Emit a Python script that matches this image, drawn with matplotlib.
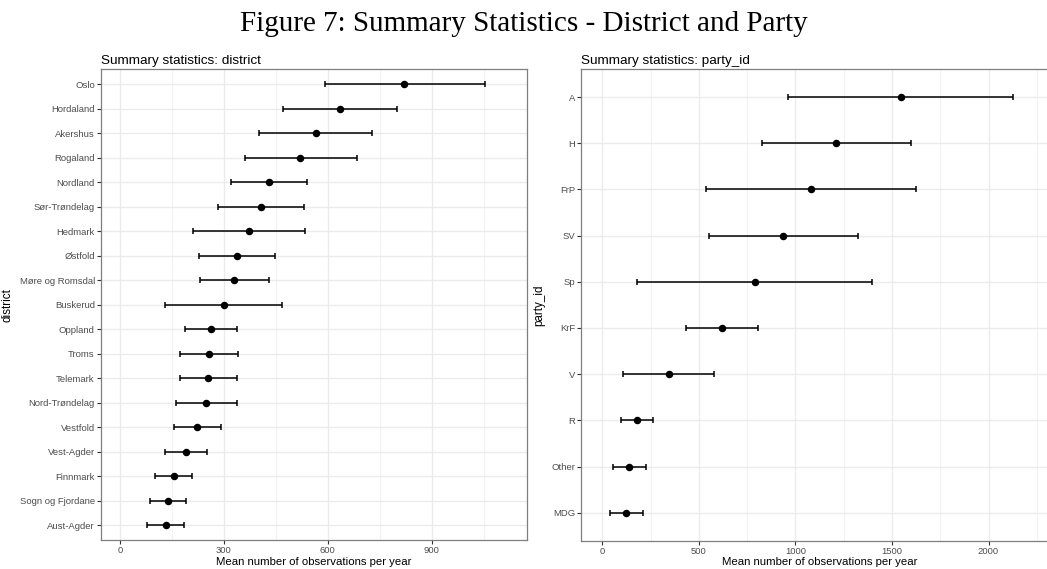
import matplotlib.pyplot as plt
from matplotlib.ticker import MultipleLocator

# district summary (top to bottom)
districts = ["Oslo", "Hordaland", "Akershus", "Rogaland", "Nordland", "Sør-Trøndelag",
             "Hedmark", "Østfold", "Møre og Romsdal", "Buskerud", "Oppland", "Troms",
             "Telemark", "Nord-Trøndelag", "Vestfold", "Vest-Agder", "Finnmark",
             "Sogn og Fjordane", "Aust-Agder"]
district_mean = [821, 634, 565, 520, 431, 407, 371, 337, 330, 300, 262, 257, 253, 249,
                 223, 190, 155, 139, 132]
district_lo = [592, 470, 402, 361, 321, 282, 212, 228, 230, 131, 187, 172, 172, 162,
               155, 131, 101, 87, 78]
district_hi = [1054, 799, 728, 684, 539, 532, 533, 448, 430, 469, 338, 341, 337, 337,
               292, 250, 209, 191, 186]

# party summary (top to bottom)
parties = ["A", "H", "FrP", "SV", "Sp", "KrF", "V", "R", "Other", "MDG"]
party_mean = [1546, 1210, 1080, 937, 790, 618, 343, 178, 140, 124]
party_lo = [963, 825, 535, 550, 182, 431, 108, 99, 53, 39]
party_hi = [2129, 1596, 1626, 1325, 1398, 808, 580, 260, 226, 208]

plt.rcParams['font.family'] = ['Liberation Sans', 'DejaVu Sans']

fig = plt.figure(figsize=(10.47, 5.69), dpi=100)
fig.text(0.5, 0.957, "Figure 7: Summary Statistics - District and Party",
         ha="center", va="center", fontsize=21, family="Liberation Serif")

W, H = 1047.0, 569.0
ax1 = fig.add_axes([101 / W, 1 - 540 / H, (527.3 - 101) / W, (540 - 69.3) / H])
ax2 = fig.add_axes([581.3 / W, 1 - 540.5 / H, (1047 - 581.3) / W + 0.01, (540.5 - 69.3) / H])


def draw(ax, labels, mean, lo, hi, xlim, major, minor, title, ylabel):
    n = len(labels)
    ys = list(range(n, 0, -1))
    ax.errorbar(mean, ys, xerr=[[m - l for m, l in zip(mean, lo)], [h - m for m, h in zip(mean, hi)]],
                fmt="o", color="black", ms=4.4, elinewidth=1.1, capsize=2.2, capthick=1.1, zorder=3)
    ax.set_xlim(*xlim)
    ax.set_ylim(0.4, n + 0.6)
    ax.set_yticks(ys)
    ax.set_yticklabels(labels)
    ax.xaxis.set_major_locator(MultipleLocator(major))
    ax.xaxis.set_minor_locator(MultipleLocator(minor))
    ax.grid(which="major", color="#ebebeb", lw=1.0, zorder=0)
    ax.grid(which="minor", axis="x", color="#ebebeb", lw=0.5, zorder=0)
    ax.set_axisbelow(True)
    for s in ax.spines.values():
        s.set_color("#7f7f7f")
        s.set_linewidth(0.9)
    ax.tick_params(which="major", length=3, width=0.8, color="#333333", labelsize=6.8,
                   labelcolor="#4d4d4d", pad=1.5)
    ax.tick_params(which="minor", length=0)
    ax.set_title(title, loc="left", fontsize=9.7, pad=4)
    ax.set_xlabel("Mean number of observations per year", fontsize=8.2, labelpad=1)
    ax.set_ylabel(ylabel, fontsize=8.4, labelpad=4)


draw(ax1, districts, district_mean, district_lo, district_hi, (-55, 1176), 300, 150,
     "Summary statistics: district", "district")
draw(ax2, parties, party_mean, party_lo, party_hi, (-109, 2357), 500, 250,
     "Summary statistics: party_id", "party_id")

fig.savefig("out.png", dpi=100)
